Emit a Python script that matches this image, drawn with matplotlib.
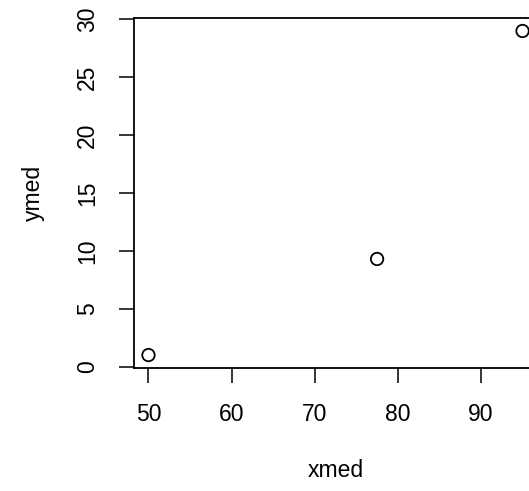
import matplotlib
matplotlib.use("Agg")
import matplotlib.pyplot as plt

plt.rcParams['font.family'] = ['Liberation Sans', 'DejaVu Sans']

xmed = [50, 77.5, 95]
ymed = [1, 9.3, 29]
xticks = [50, 60, 70, 80, 90]
yticks = [0, 5, 10, 15, 20, 25, 30]

fig = plt.figure(figsize=(5.29, 4.91), dpi=100)
ax = fig.add_axes([0.2524, 0.2505, 0.7637, 0.7128])

ax.scatter(xmed, ymed, s=80, facecolors='none', edgecolors='black', linewidths=1.3)

# R-style 4% padding
xr = max(xmed) - min(xmed)
yr = max(ymed) - min(ymed)
ax.set_xlim(min(xmed) - 0.04 * xr, max(xmed) + 0.04 * xr)
ax.set_ylim(min(ymed) - 0.04 * yr, max(ymed) + 0.04 * yr)

ax.set_xticks(xticks)
ax.set_yticks(yticks)
ax.set_yticklabels([str(v) for v in yticks], rotation=90, va='center')
ax.tick_params(direction='out', length=11, width=1.1, labelsize=16.5, pad=14)
for sp in ax.spines.values():
    sp.set_linewidth(1.3)

ax.set_xlabel('xmed', fontsize=16.5, labelpad=24)
ax.set_ylabel('ymed', fontsize=16.5, labelpad=22)

fig.savefig('out.png', dpi=100)
